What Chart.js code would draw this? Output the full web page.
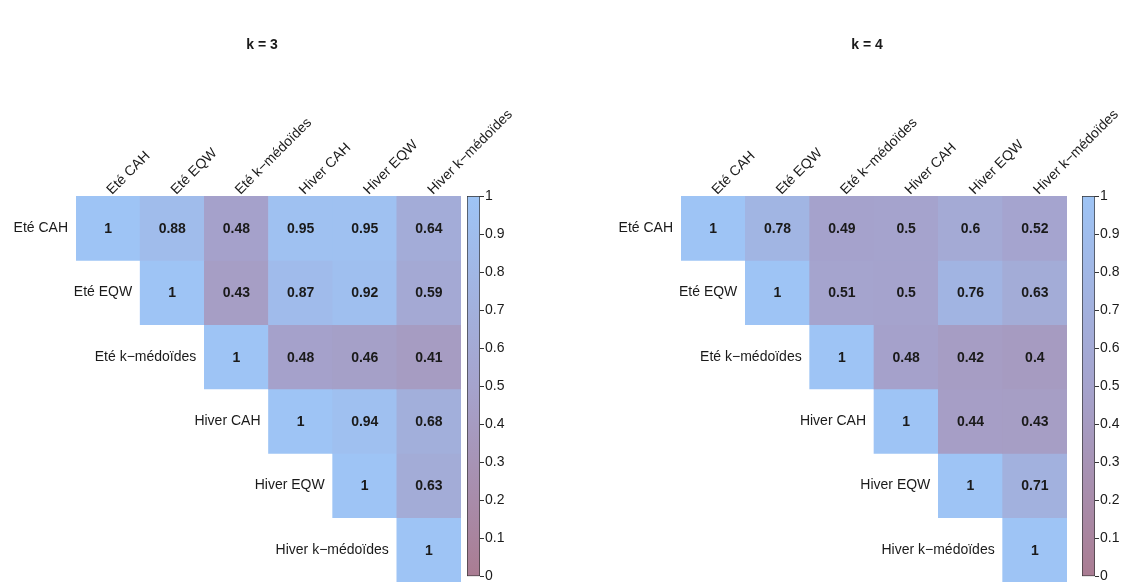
<!DOCTYPE html>
<html>
<head>
<meta charset="utf-8">
<script src="https://cdn.jsdelivr.net/npm/chart.js@4"></script>
<style>
  body { margin: 0; background: #fff; }
  #wrap { position: relative; width: 1121px; height: 586px; }
  .box { position: absolute; top: 0; height: 586px; }
</style>
</head>
<body>
<div id="wrap">
  <div class="box" style="left:0;width:560px"><canvas id="heat3"></canvas></div>
  <div class="box" style="left:440px;width:80px"><canvas id="bar3"></canvas></div>
  <div class="box" style="left:600px;width:521px"><canvas id="heat4"></canvas></div>
  <div class="box" style="left:1055px;width:66px"><canvas id="bar4"></canvas></div>
</div>
<script>
// methods compared (rows and columns)
const methods = ['Eté CAH', 'Eté EQW', 'Eté k\u2212médoïdes', 'Hiver CAH', 'Hiver EQW', 'Hiver k\u2212médoïdes'];

// upper triangle, row by row (starting at the diagonal)
const k3 = [
  [1, 0.88, 0.48, 0.95, 0.95, 0.64],
  [1, 0.43, 0.87, 0.92, 0.59],
  [1, 0.48, 0.46, 0.41],
  [1, 0.94, 0.68],
  [1, 0.63],
  [1]
];
const k4 = [
  [1, 0.78, 0.49, 0.5, 0.6, 0.52],
  [1, 0.51, 0.5, 0.76, 0.63],
  [1, 0.48, 0.42, 0.4],
  [1, 0.44, 0.43],
  [1, 0.71],
  [1]
];
const colorTicks = [0, 0.1, 0.2, 0.3, 0.4, 0.5, 0.6, 0.7, 0.8, 0.9, 1];

const FONT = '"Liberation Sans", Arial, sans-serif';
Chart.defaults.font.family = FONT;
Chart.defaults.font.size = 14;
Chart.defaults.color = '#1a1a1a';

const lowC = [170, 124, 146], midC = [165, 163, 205], highC = [158, 196, 245];
function mix(a, b, t) {
  return 'rgb(' + a.map((v, i) => Math.round(v + (b[i] - v) * t)).join(',') + ')';
}
function colorOf(v) {
  return v < 0.5 ? mix(lowC, midC, v / 0.5) : mix(midC, highC, (v - 0.5) / 0.5);
}

function heatmap(id, title, mat, padLeft, padRight) {
  const datasets = mat.map((row, i) => ({
    label: methods[i],
    data: methods.map((m, j) => j >= i ? [i, i + 1] : null),
    backgroundColor: methods.map((m, j) => j >= i ? colorOf(row[j - i]) : 'transparent'),
    borderWidth: 0,
    barPercentage: 1,
    categoryPercentage: 1,
    grouped: false
  }));

  const labelsPlugin = {
    id: 'labels' + id,
    afterDatasetsDraw(chart) {
      const ctx = chart.ctx;
      const x = chart.scales.x, y = chart.scales.y;
      const cw = x.getPixelForValue(1) - x.getPixelForValue(0);
      ctx.save();
      // values
      ctx.font = 'bold 14px ' + FONT;
      ctx.fillStyle = '#1a1a1a';
      ctx.textAlign = 'center';
      ctx.textBaseline = 'middle';
      mat.forEach((row, i) => {
        row.forEach((v, k) => {
          const j = i + k;
          ctx.fillText(String(v), x.getPixelForValue(j), y.getPixelForValue(i + 0.5) + 1);
        });
      });
      // row labels
      ctx.font = '14px ' + FONT;
      ctx.textAlign = 'right';
      methods.forEach((m, i) => {
        ctx.fillText(m, x.getPixelForValue(i) - cw / 2 - 8, y.getPixelForValue(i + 0.5));
      });
      // column labels, rotated
      ctx.textAlign = 'left';
      ctx.textBaseline = 'alphabetic';
      methods.forEach((m, j) => {
        ctx.save();
        ctx.translate(x.getPixelForValue(j) + 4, chart.chartArea.top - 1);
        ctx.rotate(-Math.PI / 4);
        ctx.fillText(m, 0, 0);
        ctx.restore();
      });
      // title
      ctx.font = 'bold 14px ' + FONT;
      ctx.textAlign = 'center';
      ctx.textBaseline = 'middle';
      ctx.fillText(title, chart.chartArea.left + 186, 45);
      ctx.restore();
    }
  };

  new Chart(document.getElementById(id), {
    type: 'bar',
    data: { labels: methods, datasets: datasets },
    options: {
      responsive: true,
      maintainAspectRatio: false,
      animation: false,
      layout: { padding: { left: padLeft, right: padRight, top: 196, bottom: 4 } },
      plugins: { legend: { display: false }, tooltip: { enabled: false } },
      scales: {
        x: { display: false, offset: true },
        y: { display: false, min: 0, max: 6, reverse: true }
      }
    },
    plugins: [labelsPlugin]
  });
}

function colorbar(id, padLeft, padRight, axisWidth) {
  new Chart(document.getElementById(id), {
    type: 'bar',
    data: {
      labels: [''],
      datasets: [{
        data: [[0, 1]],
        backgroundColor: (c) => {
          const area = c.chart.chartArea;
          if (!area) return colorOf(1);
          const g = c.chart.ctx.createLinearGradient(0, area.bottom, 0, area.top);
          g.addColorStop(0, colorOf(0));
          g.addColorStop(0.5, colorOf(0.5));
          g.addColorStop(1, colorOf(1));
          return g;
        },
        borderColor: '#333',
        borderWidth: 1,
        borderSkipped: false,
        barPercentage: 1,
        categoryPercentage: 1
      }]
    },
    options: {
      responsive: true,
      maintainAspectRatio: false,
      animation: false,
      layout: { padding: { left: padLeft, right: padRight, top: 196, bottom: 6 } },
      plugins: { legend: { display: false }, tooltip: { enabled: false } },
      scales: {
        x: { display: false },
        y: {
          position: 'right',
          min: 0, max: 1,
          afterBuildTicks: (axis) => { axis.ticks = colorTicks.map(v => ({ value: v })); },
          afterFit: (axis) => { axis.width = axisWidth; },
          ticks: { padding: 1, color: '#1a1a1a', font: { size: 14 }, callback: (v) => String(v) },
          grid: { drawOnChartArea: false, tickLength: 4, color: '#333' },
          border: { display: false }
        }
      }
    }
  });
}

heatmap('heat3', 'k = 3', k3, 76, 99);
colorbar('bar3', 27, 10, 30);
heatmap('heat4', 'k = 4', k4, 81, 54);
colorbar('bar4', 27, 0, 26);
</script>
</body>
</html>
